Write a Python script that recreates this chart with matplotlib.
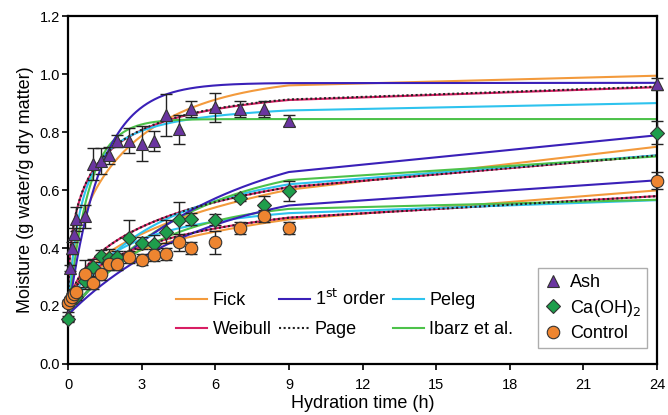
import matplotlib.pyplot as plt
import numpy as np

plt.rcParams['font.family'] = ['Liberation Sans', 'DejaVu Sans']

# Sampling times (h)
t_hyd = [0, 0.083, 0.167, 0.25, 0.33, 0.67, 1, 1.33, 1.67, 2, 2.5, 3, 3.5,
         4, 4.5, 5, 6, 7, 8, 9, 24]

# Measured moisture (g water/g dry matter) and standard deviations
ash = [0.17, 0.33, 0.40, 0.45, 0.50, 0.51, 0.69, 0.70, 0.72, 0.77, 0.77,
       0.76, 0.77, 0.86, 0.81, 0.88, 0.885, 0.88, 0.88, 0.84, 0.965]
ash_sd = [0.01, 0.01, 0.02, 0.02, 0.04, 0.04, 0.056, 0.045, 0.03, 0.02, 0.043,
          0.06, 0.035, 0.073, 0.05, 0.027, 0.05, 0.027, 0.028, 0.02, 0.02]
caoh = [0.155, 0.22, 0.235, 0.25, 0.23, 0.285, 0.333, 0.372, 0.367, 0.37,
        0.435, 0.418, 0.415, 0.456, 0.495, 0.50, 0.498, 0.573, 0.549, 0.596, 0.798]
caoh_sd = [0.01, 0.01, 0.01, 0.01, 0.01, 0.02, 0.03, 0.02, 0.03, 0.02, 0.06,
           0.02, 0.03, 0.04, 0.065, 0.02, 0.02, 0.01, 0.03, 0.035, 0.04]
control = [0.21, 0.22, 0.23, 0.24, 0.25, 0.31, 0.28, 0.31, 0.345, 0.345, 0.37,
           0.36, 0.375, 0.38, 0.42, 0.40, 0.42, 0.47, 0.51, 0.47, 0.633]
control_sd = [0.01, 0.01, 0.01, 0.01, 0.01, 0.05, 0.02, 0.02, 0.02, 0.02, 0.02,
              0.02, 0.02, 0.02, 0.03, 0.02, 0.04, 0.02, 0.02, 0.02, 0.03]

# Fitted model parameters, in order [Ash, Ca(OH)2, Control]
fick_me = [0.995, 0.83, 0.65]
fick_m0 = [0.17, 0.17, 0.20]
fick_b = [0.30, 0.067, 0.07]
first_me = [0.97, 0.80, 0.64]
first_m0 = [0.17, 0.17, 0.17]
first_k = [0.75, 0.169, 0.18]
peleg_m0 = [0.17, 0.17, 0.20]
peleg_k1 = [0.71, 5.83, 5.5]
peleg_k2 = [1.34, 1.575, 2.51]
weib_me = [0.968, 0.80, 0.62]
weib_m0 = [0.17, 0.17, 0.20]
weib_alpha = [0.455, 0.55, 0.60]
weib_beta = [1.07, 6.47, 5.86]
page_me = [0.97, 0.80, 0.62]
page_m0 = [0.17, 0.17, 0.20]
page_k = [0.97, 0.358, 0.346]
page_n = [0.455, 0.55, 0.60]
ibarz_me = [0.845, 0.72, 0.567]
ibarz_m0 = [0.17, 0.17, 0.17]
ibarz_k = [1.2, 0.207, 0.28]


def fick(t, me, m0, b):
    n = np.arange(1, 60)[:, None]
    mr = 6 / np.pi**2 * np.sum(np.exp(-n**2 * b * t) / n**2, axis=0)
    return me - (me - m0) * mr


def first_order(t, me, m0, k):
    return me - (me - m0) * np.exp(-k * t)


def peleg(t, m0, k1, k2):
    return m0 + t / (k1 + k2 * t)


def weibull(t, me, m0, a, b):
    return me - (me - m0) * np.exp(-(t / b) ** a)


def page(t, me, m0, k, n):
    return me - (me - m0) * np.exp(-k * t ** n)


# models were evaluated up to 9 h and at 24 h
tm = np.concatenate([np.linspace(0, 9, 300), [24]])

c_fick = '#F39A3C'
c_first = '#3A20B8'
c_peleg = '#2EC3EE'
c_weib = '#D81E63'
c_ibarz = '#4DC24A'

fig, ax = plt.subplots(figsize=(6.68, 4.15), dpi=100)
fig.subplots_adjust(left=0.102, right=0.9835, bottom=0.123, top=0.961)

lw = 1.5
for i in range(3):
    ax.plot(tm, fick(tm, fick_me[i], fick_m0[i], fick_b[i]), color=c_fick, lw=lw)
    ax.plot(tm, weibull(tm, weib_me[i], weib_m0[i], weib_alpha[i], weib_beta[i]),
            color=c_weib, lw=lw)
    ax.plot(tm, peleg(tm, peleg_m0[i], peleg_k1[i], peleg_k2[i]), color=c_peleg, lw=lw)
    ax.plot(tm, first_order(tm, ibarz_me[i], ibarz_m0[i], ibarz_k[i]), color=c_ibarz, lw=lw)
    ax.plot(tm, first_order(tm, first_me[i], first_m0[i], first_k[i]), color=c_first, lw=lw)
    ax.plot(tm, page(tm, page_me[i], page_m0[i], page_k[i], page_n[i]),
            color='#222222', lw=lw, ls=(0, (1, 1.2)))

# experimental points
series = [(ash, ash_sd, '^', '#6A35A0', 9, 'Ash'),
          (caoh, caoh_sd, 'D', '#1E9E4C', 7, 'Ca(OH)$_2$'),
          (control, control_sd, 'o', '#EE8530', 9, 'Control')]
pts = []
for vals, sd, mk, col, ms, lab in series:
    ax.errorbar(t_hyd, vals, yerr=sd, fmt='none', ecolor='#222222', elinewidth=1,
                capsize=4, capthick=1, zorder=4, clip_on=False)
    h, = ax.plot(t_hyd, vals, ls='none', marker=mk, ms=ms, mfc=col, mec='#333333',
                 mew=0.8, label=lab, zorder=5, clip_on=False)
    pts.append(h)

ax.set_xlim(0, 24)
ax.set_ylim(0, 1.2)
ax.set_xticks(np.arange(0, 25, 3))
ax.set_yticks(np.arange(0, 1.21, 0.2))
ax.set_yticklabels(['%.1f' % v for v in np.arange(0, 1.21, 0.2)])
ax.tick_params(labelsize=10.5, width=1.2, length=4, direction='out')
ax.tick_params(axis='x', pad=6)
ax.tick_params(axis='y', pad=2)
for s in ax.spines.values():
    s.set_linewidth(1.6)

ax.set_xlabel('Hydration time (h)', fontsize=13, labelpad=2)
ax.set_ylabel('Moisture (g water/g dry matter)', fontsize=13, labelpad=4)

# model legend
model_handles = [
    plt.Line2D([], [], color=c_fick, lw=lw, label='Fick'),
    plt.Line2D([], [], color=c_weib, lw=lw, label='Weibull'),
    plt.Line2D([], [], color=c_first, lw=lw, label='1$^{\\mathrm{st}}$ order'),
    plt.Line2D([], [], color='#222222', lw=lw, ls=(0, (1, 1.2)), label='Page'),
    plt.Line2D([], [], color=c_peleg, lw=lw, label='Peleg'),
    plt.Line2D([], [], color=c_ibarz, lw=lw, label='Ibarz et al.'),
]
leg1 = ax.legend(handles=model_handles, ncol=3, frameon=False, fontsize=13,
                 loc='upper left', bbox_to_anchor=(0.184, 0.215),
                 handlelength=1.7, handletextpad=0.3, columnspacing=0.4,
                 labelspacing=0.65, borderpad=0, borderaxespad=0)
ax.add_artist(leg1)

leg2 = ax.legend(handles=pts, loc='lower right', bbox_to_anchor=(0.983, 0.045),
                 fontsize=13, fancybox=False, edgecolor='#999999',
                 handlelength=1.0, handletextpad=0.4, labelspacing=0.35,
                 borderpad=0.35, borderaxespad=0)
leg2.get_frame().set_linewidth(1.0)

fig.savefig('out.png', dpi=100)
